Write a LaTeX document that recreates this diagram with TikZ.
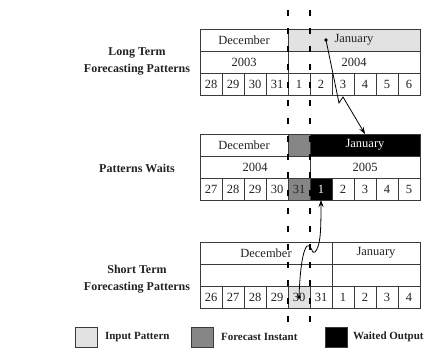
\documentclass[tikz,border=0pt]{standalone}
\usepackage{fontspec}
\setmainfont{Liberation Serif}
\usetikzlibrary{arrows.meta}
\definecolor{inp}{HTML}{E2E2E2}
\definecolor{fc}{HTML}{868686}
\definecolor{ln}{HTML}{3A3A3A}
\definecolor{tx}{HTML}{222222}
\begin{document}
\begin{tikzpicture}[x=1pt,y=-1pt,
  cell/.style={draw=ln, line width=0.6pt, inner sep=0pt, outer sep=0pt, anchor=north west,
    minimum height=22pt, text=tx, font=\fontsize{12.5}{12.5}\selectfont},
  day/.style={cell, minimum width=22pt},
  lab/.style={align=center, text=tx, font=\fontsize{12}{17}\selectfont\bfseries},
  leg/.style={anchor=west, text=tx, font=\fontsize{11}{12}\selectfont\bfseries},
  legbox/.style={draw=ln, line width=0.5pt, minimum width=22pt, minimum height=20pt, inner sep=0pt, anchor=west},
  dline/.style={line width=1.6pt, dash pattern=on 6pt off 12pt, black},
  arr/.style={line width=0.8pt, -{Stealth[length=7pt,width=5pt]}}]
\useasboundingbox (0,0) rectangle (427,349);

% labels
\node[lab] (l1) at (137,61) {Long Term\\Forecasting Patterns};
\node[lab] (l2) at (137,168) {Patterns Waits};
\node[lab] (l3) at (137,279) {Short Term\\Forecasting Patterns};

% top table
\node[cell, minimum width=88pt] (tdec) at (200,29) {December};
\node[cell, minimum width=132pt, fill=inp] (tjan) at (288,29) {January};
\node[cell, minimum width=88pt] (t03) at (200,51) {2003};
\node[cell, minimum width=132pt] (t04) at (288,51) {2004};
\foreach \d [count=\i from 0] in {28,29,30,31,1,2,3,4,5,6}
  \node[day] (t\i) at (200+22*\i,73) {\d};

% middle table
\node[cell, minimum width=88pt] (mdec) at (200,134) {December};
\node[cell, minimum width=22pt, fill=fc] (mfc) at (288,134) {};
\node[cell, minimum width=110pt, fill=black, text=white] (mjan) at (310,134) {January};
\node[cell, minimum width=110pt] (m04) at (200,156) {2004};
\node[cell, minimum width=110pt] (m05) at (310,156) {2005};
\foreach \d [count=\i from 0] in {27,28,29,30}
  \node[day] (m\i) at (200+22*\i,178) {\d};
\node[day, fill=fc] (m31) at (288,178) {31};
\node[day, fill=black, text=white] (m1) at (310,178) {1};
\foreach \d [count=\i from 6] in {2,3,4,5}
  \node[day] (m\i) at (200+22*\i,178) {\d};

% bottom table
\node[cell, minimum width=132pt] (bdec) at (200,242) {December};
\node[cell, minimum width=88pt] (bjan) at (332,242) {January};
\node[cell, minimum width=132pt] (bb1) at (200,264) {};
\node[cell, minimum width=88pt] (bb2) at (332,264) {};
\foreach \d [count=\i from 0] in {26,27,28,29}
  \node[day] (b\i) at (200+22*\i,286) {\d};
\node[day, fill=inp] (b30) at (288,286) {30};
\foreach \d [count=\i from 5] in {31,1,2,3,4}
  \node[day] (b\i) at (200+22*\i,286) {\d};

% dashed lines
\coordinate (da1) at (288,10); \coordinate (da2) at (288,326);
\coordinate (db1) at (310,10); \coordinate (db2) at (310,326);
\draw[dline] (da1) -- (da2);
\draw[dline] (db1) -- (db2);

% arrows
\coordinate (d1) at (326,40);
\coordinate (k1) at (339,103);
\coordinate (k2) at (343,97);
\fill (d1) circle (1.8pt);
\draw[arr] (d1) -- (k1) -- (k2) -- (mjan.north);
\coordinate (d2) at (b30.center);
\fill (d2) circle (1.8pt);
\draw[arr] (d2) .. controls (300,268) and (303,250) .. (307,246)
  .. controls (311,242) and (312,256) .. (315,252)
  .. controls (320,246) and (321,236) .. (m1.south);

% legend
\node[legbox, fill=inp] (g1) at (75,337) {};
\node[leg] (g1t) at (g1.east) [xshift=4pt] {Input Pattern};
\node[legbox, fill=fc] (g2) at (191,337) {};
\node[leg] (g2t) at (g2.east) [xshift=4pt] {Forecast Instant};
\node[legbox, fill=black] (g3) at (325,337) {};
\node[leg] (g3t) at (g3.east) [xshift=2pt] {Waited Output};
\end{tikzpicture}
\end{document}
